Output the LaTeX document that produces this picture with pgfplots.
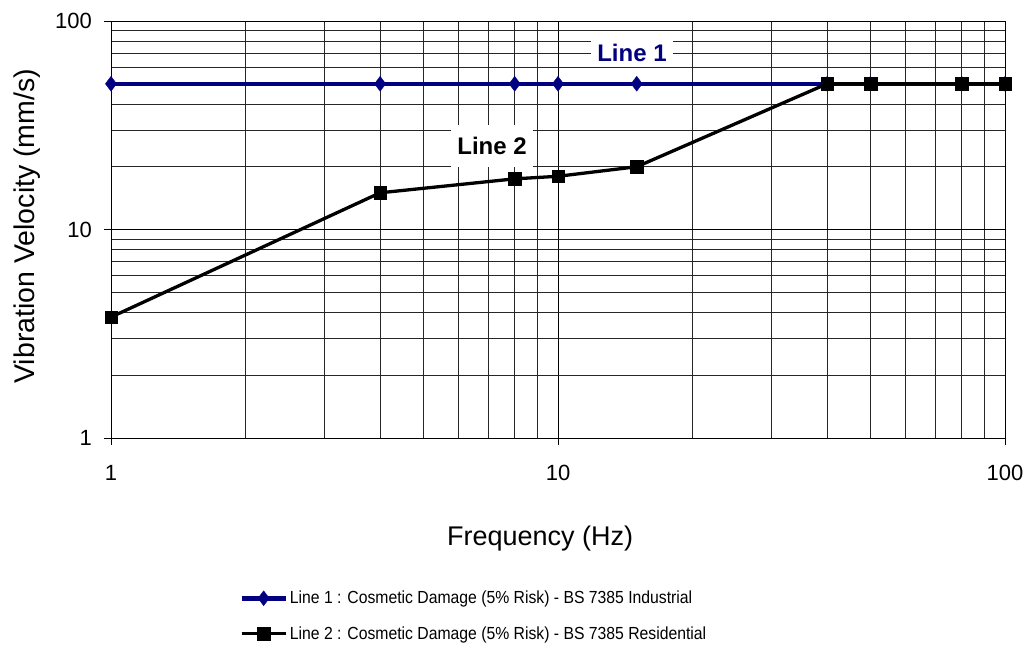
\documentclass[border=0pt]{standalone}
\usepackage{pgfplots}
\pgfplotsset{compat=1.18}
\usepackage{fontspec}
\setmainfont{Liberation Sans}
\definecolor{navy}{RGB}{0,0,128}
\begin{document}
\begin{tikzpicture}
\path[use as bounding box] (0pt,0pt) rectangle (1028pt,-671pt);
\begin{axis}[
  at={(111pt,-438pt)}, anchor=south west,
  scale only axis, width=894pt, height=417pt,
  xmode=log, ymode=log,
  xmin=1, xmax=100, ymin=1, ymax=100,
  xtick={1,10,100}, ytick={1,10,100},
  xticklabels={1,10,100}, yticklabels={1,10,100},
  minor xtick={2,3,4,5,6,7,8,9,20,30,40,50,60,70,80,90},
  minor ytick={2,3,4,5,6,7,8,9,20,30,40,50,60,70,80,90},
  grid=both,
  major grid style={black, line width=0.9pt},
  minor grid style={black!85, line width=0.9pt},
  axis line style={black, line width=1pt},
  tick align=outside, major tick length=7pt, minor tick length=0pt,
  tick style={black, line width=1pt},
  xtick pos=bottom, ytick pos=left,
  ticklabel style={font=\fontsize{22}{26}\selectfont},
  yticklabel style={anchor=east, inner sep=0pt, xshift=-12pt},
  xticklabel style={anchor=north, inner sep=0pt, yshift=-20pt},
  xlabel={Frequency (Hz)},
  ylabel={Vibration Velocity (mm/s)},
  xlabel style={at={(axis description cs:0.48,-0.24)}, anchor=center, font=\fontsize{27}{31}\selectfont},
  ylabel style={at={(axis description cs:-0.0934,0.508)}, anchor=center, font=\fontsize{28.5}{33}\selectfont},
  clip=false,
  legend style={at={(axis description cs:0.1434,-0.362)}, anchor=north west, draw=none, fill=none,
    font=\fontsize{17.5}{21}\selectfont, row sep=17pt, inner sep=0pt, nodes={inner sep=2pt}},
  legend cell align=left,
  legend image code/.code={\draw[mark repeat=2,mark phase=2,#1] plot coordinates {(0pt,0pt) (22pt,0pt) (44pt,0pt)};},
]
\addplot[navy, line width=4.5pt, mark=diamond*, mark size=7.5pt, mark options={solid, line width=0.3pt}]
  coordinates {(1,50)(4,50)(8,50)(10,50)(15,50)(40,50)(50,50)(80,50)(100,50)};
\addlegendentry{\scalebox{0.9}[1]{Line 1 : Cosmetic Damage (5\% Risk) - BS 7385 Industrial}}
\addplot[black, line width=3.3pt, mark=square*, mark size=6.3pt, mark options={solid, line width=0.3pt}]
  coordinates {(1,3.8)(4,15)(8,17.5)(10,18)(15,20)(40,50)(50,50)(80,50)(100,50)};
\addlegendentry{\scalebox{0.9}[1]{Line 2 : Cosmetic Damage (5\% Risk) - BS 7385 Residential}}
\node[fill=white, text=navy, font=\bfseries\fontsize{24}{28}\selectfont, inner xsep=6.5pt, inner ysep=5pt] at (axis cs:14.64,70.2) {Line 1};
\node[fill=white, text=black, font=\bfseries\fontsize{24}{28}\selectfont, inner xsep=6.5pt, inner ysep=12pt] at (axis cs:7.12,25.2) {Line 2};
\end{axis}
\end{tikzpicture}
\end{document}
